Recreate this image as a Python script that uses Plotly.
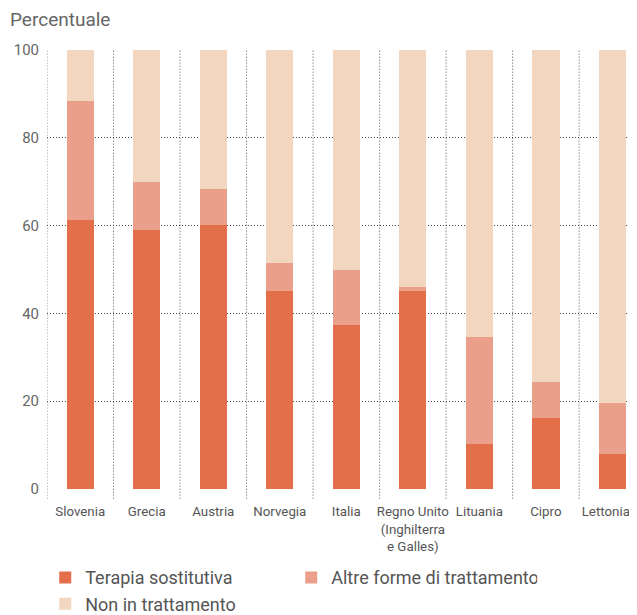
import plotly.graph_objects as go

paesi = ["Slovenia", "Grecia", "Austria", "Norvegia", "Italia",
         "Regno Unito<br>(Inghilterra<br>e Galles)", "Lituania", "Cipro", "Lettonia"]
terapia = [61.3, 59.0, 60.1, 45.1, 37.4, 45.1, 10.3, 16.2, 8.0]
altre = [27.1, 10.9, 8.2, 6.4, 12.5, 0.9, 24.3, 8.2, 11.6]
non_tratt = [round(100 - t - a, 1) for t, a in zip(terapia, altre)]

colori = {"Terapia sostitutiva": "#E36E4A",
          "Altre forme di trattamento": "#EA9F8A",
          "Non in trattamento": "#F2D6C0"}

FONT = "Roboto, Arial"
x = list(range(len(paesi)))
# last label sits on the right edge: pad it so the whole word stays visible
etichette = paesi[:-1] + [paesi[-1] + "\u00a0" * 4]

# the page body has an 8px margin, so the figure is sized to fit the remaining area
W, H = 629, 607

fig = go.Figure()
for nome, vals in [("Terapia sostitutiva", terapia),
                   ("Altre forme di trattamento", altre),
                   ("Non in trattamento", non_tratt)]:
    fig.add_trace(go.Bar(x=x, y=vals, name=nome, width=0.41,
                         marker=dict(color=colori[nome], line=dict(width=0))))

# dotted separators between countries
for b in [i - 0.5 for i in range(len(paesi) + 1)]:
    fig.add_shape(type="line", xref="x", yref="paper", x0=b, x1=b, y0=-0.022, y1=1,
                  line=dict(color="#555", width=1, dash="1px,2px"), layer="below")

fig.update_layout(
    width=W, height=H,
    barmode="stack",
    plot_bgcolor="white", paper_bgcolor="white",
    margin=dict(l=39, r=0, t=42, b=126, autoexpand=False),
    font=dict(family=FONT, color="#555", size=14),
    title=dict(text="Percentuale", x=2/W, xanchor="left", xref="container",
               yref="container", y=1 - 11/H, yanchor="middle",
               font=dict(size=19, color="#666", family=FONT)),
    xaxis=dict(range=[-0.5, 8.37], tickvals=x, ticktext=etichette, showgrid=False,
               zeroline=False, showline=False, ticks="", ticklabelstandoff=13,
               ticklabeloverflow="allow",
               tickfont=dict(size=13.3, color="#555")),
    yaxis=dict(range=[0, 100], tickvals=[0, 20, 40, 60, 80, 100], showgrid=True,
               gridcolor="#444", griddash="1px,2px", gridwidth=1, zeroline=False,
               showline=False, ticks="", ticklabelstandoff=7,
               tickfont=dict(size=15, color="#666")),
    legend=dict(orientation="h", x=-0.003, y=-0.16, xanchor="left", yanchor="top",
                font=dict(size=18, color="#555"), entrywidth=201,
                tracegroupgap=0, traceorder="normal", itemsizing="constant"),
    bargap=0.59,
)

fig.write_html("out.html")
